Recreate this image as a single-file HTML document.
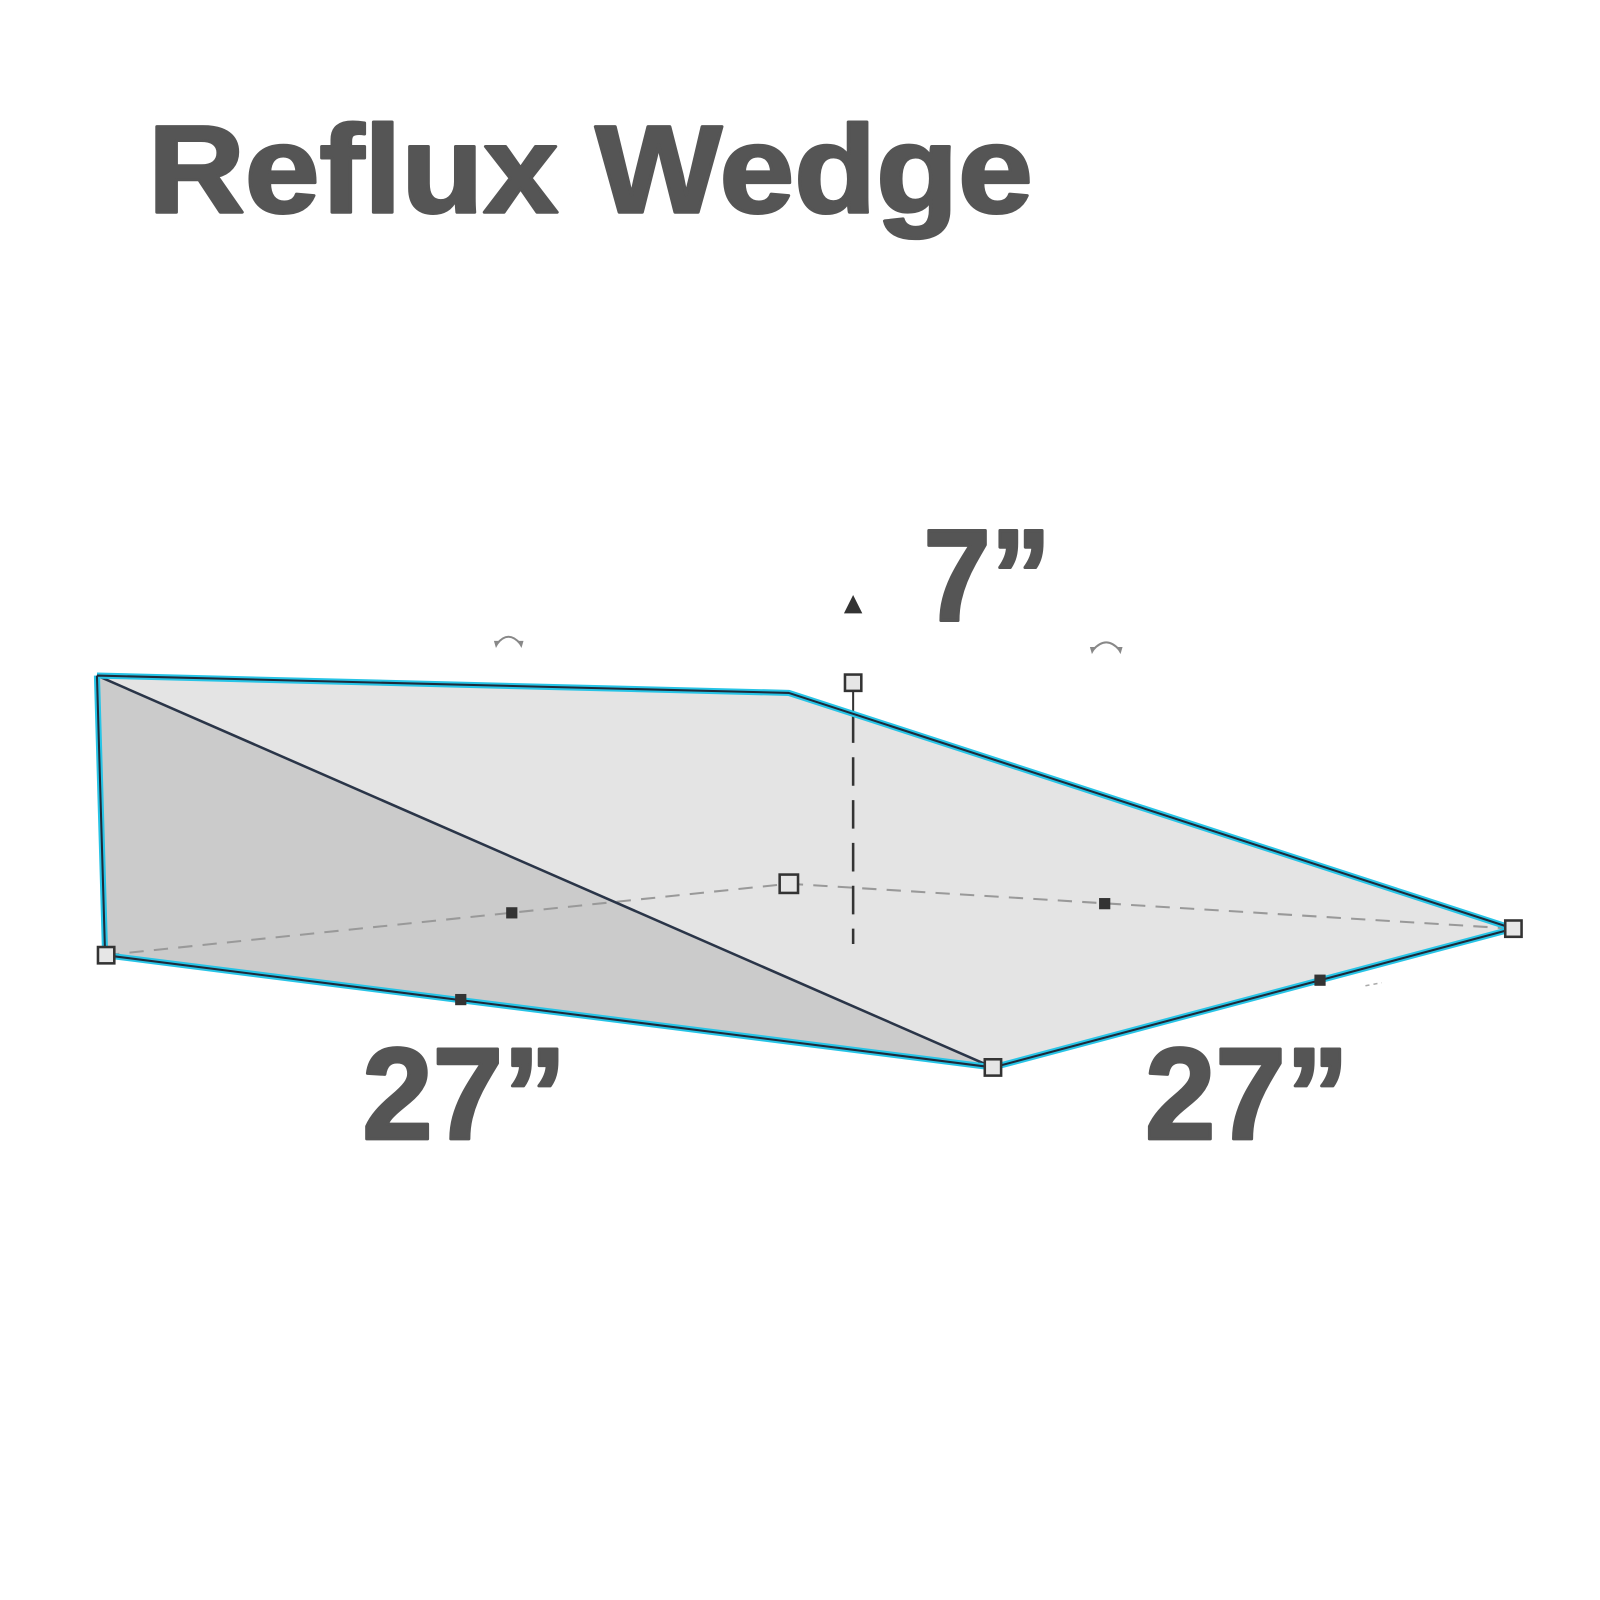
<!DOCTYPE html>
<html><head><meta charset="utf-8"><style>html,body{margin:0;padding:0;background:#fff}svg{display:block}</style></head>
<body>
<svg width="1600" height="1600" viewBox="0 0 1600 1600" xmlns="http://www.w3.org/2000/svg">
<rect width="1600" height="1600" fill="#fff"/>
<g transform="scale(1.0205)">
<g font-family="Liberation Sans, sans-serif" font-weight="bold" fill="#555" stroke="#555" stroke-width="3" stroke-linejoin="round">
<text x="145" y="208" font-size="122" textLength="867" lengthAdjust="spacingAndGlyphs">Reflux Wedge</text>
<text x="905" y="608" font-size="128" textLength="125" lengthAdjust="spacingAndGlyphs">7”</text>
<text x="355" y="1116" font-size="128" textLength="200" lengthAdjust="spacingAndGlyphs">27”</text>
<text x="1122" y="1116" font-size="128" textLength="200" lengthAdjust="spacingAndGlyphs">27”</text>
</g>
<polygon points="95,662 773,679 1483,910 973,1046" fill="#e4e4e4"/>
<polygon points="95,662 103,936 973,1046" fill="#cbcbcb"/>
<g stroke="#999" stroke-width="2" stroke-dasharray="14,10" fill="none">
<line x1="103" y1="936" x2="773" y2="866"/>
<line x1="773" y1="866" x2="1483" y2="910"/>
</g>
<line x1="836" y1="700" x2="836" y2="925" stroke="#333" stroke-width="2.5" stroke-dasharray="28,14"/>
<line x1="836" y1="676" x2="836" y2="700" stroke="#333" stroke-width="2"/>
<line x1="95" y1="662" x2="973" y2="1046" stroke="#2a3548" stroke-width="2.5"/>
<polyline points="95,662 773,679 1483,910 973,1046 103,936 95,662" fill="none" stroke="#27c4e6" stroke-width="6" stroke-linejoin="round"/>
<polyline points="95,662 773,679 1483,910 973,1046 103,936 95,662" fill="none" stroke="#1e2a3a" stroke-width="2" stroke-linejoin="round"/>
<g fill="#e6e6e6" stroke="#333" stroke-width="2.5">
<rect x="96" y="928" width="16" height="16"/>
<rect x="965" y="1038" width="16" height="16"/>
<rect x="1475" y="902" width="16" height="16"/>
<rect x="764" y="857" width="18" height="18"/>
<rect x="828" y="661" width="16" height="16"/>
</g>
<g fill="#333">
<rect x="496" y="889" width="11" height="11"/>
<rect x="1077" y="880" width="11" height="11"/>
<rect x="446" y="974" width="11" height="11"/>
<rect x="1288" y="955" width="11" height="11"/>
<polygon points="836,583 827,601 845,601"/>
</g>
<g fill="none" stroke="#888" stroke-width="2">
<path d="M487,631 Q498,617 510,631"/>
<path d="M1071,637 Q1084,622 1097,637"/>
</g>
<g fill="#888">
<polygon points="484,628 490,628 486,635"/>
<polygon points="507,628 513,628 511,635"/>
<polygon points="1068,634 1074,634 1070,641"/>
<polygon points="1094,634 1100,634 1098,641"/>
</g>
<path d="M1338,966 L1354,963" stroke="#aaa" stroke-width="1.5" stroke-dasharray="4,4"/>
</g>
</svg>
</body></html>
